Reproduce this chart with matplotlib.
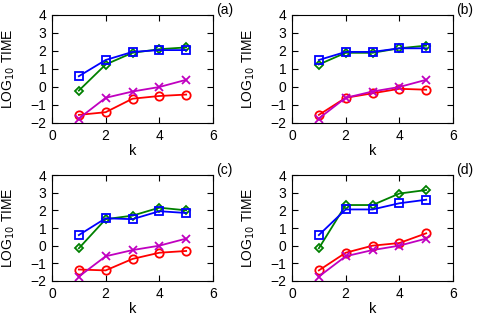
import matplotlib.pyplot as plt

plt.rcParams['font.family'] = ['Liberation Sans', 'DejaVu Sans']

k = [1, 2, 3, 4, 5]
panels = ['(a)', '(b)', '(c)', '(d)']

# log10 time per panel, one list per method
red = [
    [-1.55, -1.4, -0.65, -0.5, -0.42],
    [-1.55, -0.6, -0.35, -0.1, -0.15],
    [-1.35, -1.4, -0.75, -0.4, -0.3],
    [-1.4, -0.4, 0.0, 0.15, 0.7],
]
green = [
    [-0.2, 1.25, 1.9, 2.1, 2.2],
    [1.25, 1.9, 1.9, 2.15, 2.3],
    [-0.15, 1.5, 1.7, 2.15, 2.0],
    [-0.15, 2.3, 2.3, 2.95, 3.15],
]
blue = [
    [0.6, 1.5, 1.95, 2.05, 2.05],
    [1.5, 1.95, 1.95, 2.15, 2.15],
    [0.6, 1.55, 1.5, 1.95, 1.85],
    [0.6, 2.05, 2.05, 2.4, 2.6],
]
magenta = [
    [-1.75, -0.6, -0.25, 0.0, 0.4],
    [-1.75, -0.6, -0.25, 0.0, 0.4],
    [-1.75, -0.6, -0.25, 0.0, 0.4],
    [-1.75, -0.6, -0.25, 0.0, 0.4],
]

fig = plt.figure(figsize=(4.8, 3.2), dpi=100)
W, H = 480, 320
# axes boxes in pixels: left, top, right, bottom
boxes = [(52, 15, 213, 123), (292, 15, 453, 123),
         (52, 175, 213, 281), (292, 175, 453, 281)]

for i, (l, t, r, b) in enumerate(boxes):
    ax = fig.add_axes([l / W, 1 - b / H, (r - l) / W, (b - t) / H])
    ax.plot(k, red[i], '-o', color='#ff0000', mfc='none', ms=6, mew=1.3, lw=1.3)
    ax.plot(k, magenta[i], '-x', color='#c000c0', ms=6, mew=1.3, lw=1.3)
    ax.plot(k, green[i], '-D', color='#008000', mfc='none', ms=4.5, mew=1.3, lw=1.3)
    ax.plot(k, blue[i], '-s', color='#0000ff', mfc='none', ms=6, mew=1.3, lw=1.3)
    ax.set_xlim(0, 6)
    ax.set_ylim(-2, 4)
    ax.set_xticks([0, 2, 4, 6])
    ax.set_yticks([-2, -1, 0, 1, 2, 3, 4])
    ax.tick_params(direction='in', top=True, right=True, labelsize=10, length=4, pad=4)
    ax.set_xlabel('k', fontsize=10.5, labelpad=1)
    ax.set_ylabel('LOG$_{10}$ TIME', fontsize=10, labelpad=10)
    ax.text((r + 3) / W, 1 - 3 / H - t / H + 15 / H, panels[i], transform=fig.transFigure,
            fontsize=10, ha='left', va='top')

fig.savefig('out.png', dpi=100)
